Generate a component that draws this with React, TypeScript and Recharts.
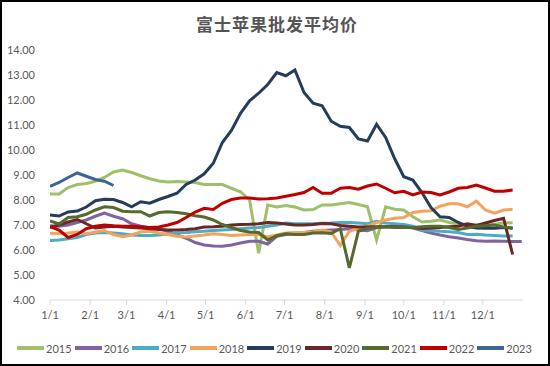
import { LineChart, Line, XAxis, YAxis, Legend } from "recharts";

const years = ["2015", "2016", "2017", "2018", "2019", "2020", "2021", "2022", "2023"];
const colors = ["#9FBF6A", "#8064A2", "#4BACC6", "#F5A25D", "#253D5B", "#6B2626", "#56692E", "#C00000", "#3C6591"];

const monthTicks = [1, 32, 60, 91, 121, 152, 182, 213, 244, 274, 305, 335];
const monthLabels = ["1/1", "2/1", "3/1", "4/1", "5/1", "6/1", "7/1", "8/1", "9/1", "10/1", "11/1", "12/1"];
const yTicks = [4, 5, 6, 7, 8, 9, 10, 11, 12, 13, 14];

// weekly average prices, one value per week from 1/1
const s2015 = [8.24, 8.24, 8.5, 8.62, 8.66, 8.75, 8.9, 9.12, 9.2, 9.1, 8.97, 8.85, 8.76, 8.72, 8.74, 8.72, 8.7, 8.62, 8.62, 8.62, 8.47, 8.33, 8.0, 5.87, 7.8, 7.72, 7.78, 7.72, 7.6, 7.62, 7.8, 7.8, 7.85, 7.9, 7.82, 7.73, 6.4, 7.73, 7.63, 7.6, 7.33, 7.12, 7.15, 7.2, 7.1, 7.04, 7.02, 7.0, 7.0, 7.03, 7.08, 7.09];
const s2016 = [6.97, 6.95, 7.0, 7.1, 7.2, 7.35, 7.48, 7.35, 7.25, 7.05, 6.95, 6.88, 6.85, 6.75, 6.6, 6.47, 6.3, 6.2, 6.16, 6.15, 6.2, 6.28, 6.35, 6.35, 6.24, 6.55, 6.62, 6.65, 6.7, 6.75, 6.78, 6.8, 6.82, 6.85, 6.8, 6.77, 6.9, 6.93, 6.93, 6.93, 6.88, 6.78, 6.68, 6.6, 6.53, 6.48, 6.42, 6.37, 6.35, 6.36, 6.35, 6.34, 6.34];
const s2017 = [6.38, 6.4, 6.45, 6.5, 6.62, 6.68, 6.7, 6.68, 6.65, 6.6, 6.58, 6.58, 6.6, 6.65, 6.68, 6.7, 6.73, 6.75, 6.78, 6.8, 6.82, 6.85, 6.88, 6.9, 6.95, 7.0, 7.08, 7.05, 7.05, 7.05, 7.07, 7.08, 7.1, 7.1, 7.08, 7.05, 7.15, 7.08, 7.05, 7.02, 6.95, 6.8, 6.78, 6.75, 6.73, 6.7, 6.62, 6.63, 6.6, 6.58, 6.56, 6.56];
const s2018 = [6.67, 6.66, 6.68, 6.72, 6.65, 6.72, 6.78, 6.62, 6.53, 6.6, 6.72, 6.75, 6.68, 6.62, 6.55, 6.52, 6.56, 6.6, 6.65, 6.62, 6.58, 6.6, 6.62, 6.62, 6.52, 6.6, 6.68, 6.7, 6.7, 6.72, 6.8, 6.72, 6.18, 6.75, 6.87, 6.95, 7.1, 7.2, 7.27, 7.3, 7.5, 7.55, 7.57, 7.75, 7.85, 7.85, 7.73, 7.95, 7.6, 7.47, 7.6, 7.63];
const s2019 = [7.4, 7.36, 7.52, 7.56, 7.72, 7.97, 8.03, 8.02, 7.9, 7.73, 7.93, 7.87, 8.02, 8.14, 8.27, 8.62, 8.8, 9.05, 9.47, 10.3, 10.78, 11.47, 11.97, 12.27, 12.62, 13.1, 12.97, 13.2, 12.3, 11.87, 11.77, 11.15, 10.95, 10.9, 10.44, 10.36, 11.03, 10.5, 9.65, 8.93, 8.8, 8.3, 7.7, 7.33, 7.3, 7.1, 6.95, 6.88, 6.87, 6.87, 6.9, 6.87];
const s2020 = [6.9, 7.0, 7.12, 7.22, 7.05, 6.88, 6.92, 6.95, 6.92, 6.9, 6.88, 6.85, 6.82, 6.8, 6.8, 6.82, 6.85, 6.92, 6.93, 6.95, 7.0, 7.02, 7.03, 7.05, 7.1, 7.08, 7.04, 7.0, 7.0, 7.02, 7.06, 7.05, 6.98, 6.95, 6.92, 6.92, 6.93, 6.93, 6.93, 6.92, 6.9, 6.86, 6.88, 6.9, 6.93, 6.95, 7.05, 6.98, 7.08, 7.18, 7.27, 5.82];
const s2021 = [7.16, 7.04, 7.3, 7.33, 7.43, 7.6, 7.73, 7.7, 7.55, 7.53, 7.53, 7.36, 7.5, 7.53, 7.5, 7.45, 7.37, 7.32, 7.2, 7.02, 6.9, 6.78, 6.72, 6.7, 6.4, 6.57, 6.65, 6.62, 6.62, 6.68, 6.69, 6.66, 6.85, 5.28, 6.75, 6.87, 6.9, 6.93, 6.9, 6.9, 6.9, 6.93, 6.95, 6.95, 6.9, 6.82, 6.88, 6.95, 6.97, 7.0, 6.92, 6.88];
const s2022 = [6.93, 6.8, 6.5, 6.62, 6.85, 6.95, 7.0, 6.97, 6.95, 6.95, 6.93, 6.9, 6.92, 7.0, 7.1, 7.3, 7.52, 7.67, 7.62, 7.87, 8.02, 8.08, 8.08, 8.04, 8.05, 8.08, 8.15, 8.22, 8.3, 8.5, 8.27, 8.27, 8.47, 8.5, 8.43, 8.56, 8.64, 8.47, 8.29, 8.35, 8.2, 8.32, 8.3, 8.2, 8.32, 8.47, 8.5, 8.6, 8.48, 8.35, 8.35, 8.4];
const s2023 = [8.55, 8.7, 8.9, 9.08, 8.95, 8.82, 8.75, 8.58];

const series = [s2015, s2016, s2017, s2018, s2019, s2020, s2021, s2022, s2023];

const data = Array.from({ length: 53 }, (_, i) => {
  const row: any = { day: 1 + 7 * i };
  years.forEach((y, k) => {
    if (i < series[k].length) row[y] = series[k][i];
  });
  return row;
});

const FONT = "Lato, 'Liberation Sans', sans-serif";
const TXT = "#595959";

const LegendRow = () => (
  <div style={{ display: "flex", justifyContent: "center", alignItems: "center", height: 30, fontFamily: FONT, fontSize: 11, color: TXT, paddingLeft: 2 }}>
    {years.map((y, i) => (
      <div key={y} style={{ display: "flex", alignItems: "center", marginRight: 3 }}>
        <span style={{ display: "inline-block", width: 27, height: 4, background: colors[i], marginRight: 2 }} />
        <span>{y}</span>
      </div>
    ))}
  </div>
);

export default function App() {
  return (
    <div style={{ position: "absolute", left: 0, top: 0, width: 550, height: 366, background: "#fff" }}>
      <div style={{ position: "absolute", left: 0, top: 11, width: 554, textAlign: "center", fontFamily: "'Noto Sans CJK SC', sans-serif", fontSize: 17, fontWeight: 700, color: "#555", letterSpacing: 1 }}>
        富士苹果批发平均价
      </div>
      <LineChart width={550} height={366} data={data} margin={{ top: 50, right: 27, left: 0, bottom: 8 }}>
        <XAxis
          dataKey="day" type="number" domain={[1, 366]} ticks={monthTicks}
          tickFormatter={(v) => monthLabels[monthTicks.indexOf(v)]}
          tick={{ fontSize: 11, fill: TXT, fontFamily: FONT }}
          stroke="#d9d9d9" tickSize={5} tickMargin={6} height={28} allowDataOverflow
        />
        <YAxis
          domain={[4, 14]} ticks={yTicks} tickFormatter={(v) => v.toFixed(2)}
          tick={{ fontSize: 11, fill: TXT, fontFamily: FONT }}
          axisLine={false} tickLine={false} tickSize={0} tickMargin={15} width={50}
        />
        <Legend verticalAlign="bottom" height={30} content={<LegendRow />}
          wrapperStyle={{ left: 0, top: 333, width: 550 }} />
        {years.map((y, i) => (
          <Line key={y} type="linear" dataKey={y} stroke={colors[i]} strokeWidth={3}
            dot={false} isAnimationActive={false} />
        ))}
      </LineChart>
      <div style={{ position: "absolute", left: 0, top: 0, width: 550, height: 366, border: "2px solid #000", boxSizing: "border-box", pointerEvents: "none" }} />
    </div>
  );
}
